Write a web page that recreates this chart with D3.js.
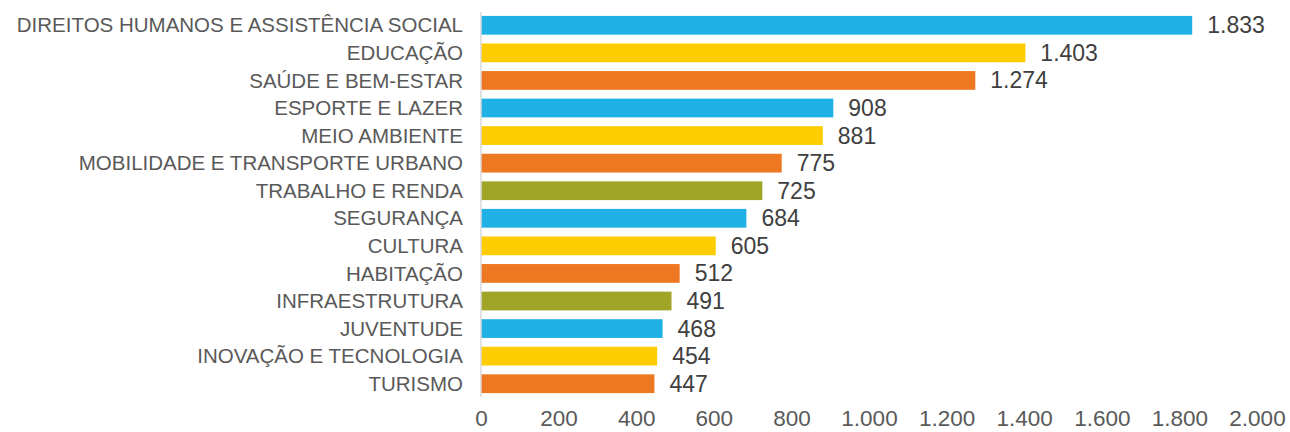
<!DOCTYPE html>
<html>
<head>
<meta charset="utf-8">
<script src="https://cdn.jsdelivr.net/npm/d3@7"></script>
<style>
  body { margin: 0; background: #fff; }
  svg { display: block; font-family: "Liberation Sans", Arial, sans-serif; }
  .cat-label { fill: #595959; font-size: 20.5px; }
  .val-label { fill: #404040; font-size: 23px; }
  .tick-label { fill: #595959; font-size: 22.5px; }
</style>
</head>
<body>
<svg></svg>
<script>
// data
var categories = [
  "DIREITOS HUMANOS E ASSISTÊNCIA SOCIAL", "EDUCAÇÃO", "SAÚDE E BEM-ESTAR",
  "ESPORTE E LAZER", "MEIO AMBIENTE", "MOBILIDADE E TRANSPORTE URBANO",
  "TRABALHO E RENDA", "SEGURANÇA", "CULTURA", "HABITAÇÃO",
  "INFRAESTRUTURA", "JUVENTUDE", "INOVAÇÃO E TECNOLOGIA", "TURISMO"
];
var values = [1833, 1403, 1274, 908, 881, 775, 725, 684, 605, 512, 491, 468, 454, 447];
var xTicks = [0, 200, 400, 600, 800, 1000, 1200, 1400, 1600, 1800, 2000];

var barColors = ["#1FB1E6", "#FFCC00", "#EE7721", "#1FB1E6", "#FFCC00", "#EE7721", "#A0A527",
                 "#1FB1E6", "#FFCC00", "#EE7721", "#A0A527", "#1FB1E6", "#FFCC00", "#EE7721"];

var data = categories.map(function(c, i) { return { cat: c, val: values[i], color: barColors[i] }; });

var svgWidth = 1290, svgHeight = 432;
var svg = d3.select("svg").attr("width", svgWidth).attr("height", svgHeight);

var fmt = function(v) { return d3.format(",")(v).replace(/,/g, "."); };

var x = d3.scaleLinear().domain([0, 2000]).range([481, 1257]);
var y = d3.scaleBand().domain(categories).range([11.5, 397.5])
  .paddingInner(0.32).paddingOuter(0.16);

// bars
svg.selectAll(".bar")
  .data(data)
  .enter()
  .append("rect")
  .attr("class", "bar")
  .attr("x", x(0))
  .attr("y", d => y(d.cat))
  .attr("width", d => x(d.val) - x(0))
  .attr("height", y.bandwidth())
  .attr("fill", d => d.color);

// vertical axis line
svg.append("line")
  .attr("x1", x(0)).attr("x2", x(0))
  .attr("y1", 12).attr("y2", 397)
  .attr("stroke", "#d9d9d9").attr("stroke-width", 1.5);

// category labels
svg.selectAll(".cat-label")
  .data(data)
  .enter()
  .append("text")
  .attr("class", "cat-label")
  .attr("x", 463)
  .attr("y", d => y(d.cat) + y.bandwidth() / 2)
  .attr("dy", "0.35em")
  .attr("text-anchor", "end")
  .text(d => d.cat);

// value labels
svg.selectAll(".val-label")
  .data(data)
  .enter()
  .append("text")
  .attr("class", "val-label")
  .attr("x", d => x(d.val) + 15)
  .attr("y", d => y(d.cat) + y.bandwidth() / 2)
  .attr("dy", "0.35em")
  .text(d => fmt(d.val));

// x axis tick labels
var xAxis = svg.append("g")
  .attr("transform", "translate(0,426)")
  .call(d3.axisBottom(x).tickValues(xTicks).tickSize(0).tickPadding(0).tickFormat(fmt));
xAxis.select(".domain").remove();
xAxis.selectAll("text")
  .attr("class", "tick-label")
  .attr("fill", null)
  .attr("font-family", null)
  .attr("font-size", null)
  .attr("dy", 0);
</script>
</body>
</html>
